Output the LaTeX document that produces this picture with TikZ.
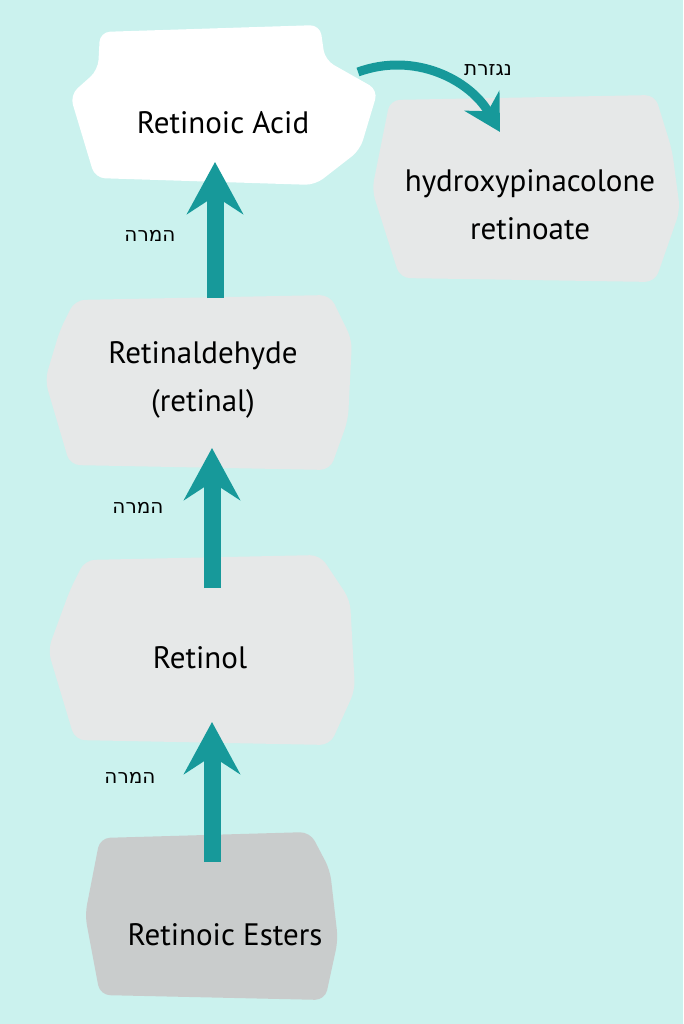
\documentclass[tikz,border=0pt]{standalone}
\usepackage{fontspec}
\setmainfont{PT Sans}
\newfontfamily\hebfont{DejaVu Sans}
\usetikzlibrary{arrows.meta,positioning}
\definecolor{bgmint}{HTML}{CBF2EE}
\definecolor{paintgray}{HTML}{E6E8E8}
\definecolor{paintdark}{HTML}{C9CCCC}
\definecolor{tealarrow}{HTML}{17999A}
\TeXXeTstate=1
\tikzset{
  brush/.style={inner sep=0pt, align=center,
    font=\fontsize{31}{48}\selectfont},
  convert/.style={draw=tealarrow, line width=17pt,
    -{Stealth[length=52pt,width=56pt,inset=18pt]}},
  heb/.style={font=\hebfont\fontsize{20}{22}\selectfont, text=black}
}
\begin{document}
\begin{tikzpicture}[x=1pt,y=-1pt]
  \useasboundingbox[fill=bgmint] (0,0) rectangle (683,1024);
  % painted patches
  \fill[white,rounded corners=10pt] (100,32) -- (320,25) -- (325,60) -- (378,90) -- (360,150) -- (315,185) -- (95,178) -- (70,95) -- (98,70) -- cycle;
  \fill[paintgray,rounded corners=10pt] (390,100) -- (655,95) -- (672,150) -- (680,210) -- (655,282) -- (400,278) -- (372,190) -- cycle;
  \fill[paintgray,rounded corners=10pt] (75,300) -- (330,295) -- (352,340) -- (348,420) -- (330,470) -- (70,465) -- (45,380) -- (60,330) -- cycle;
  \fill[paintgray,rounded corners=10pt] (85,560) -- (320,555) -- (350,600) -- (355,690) -- (330,745) -- (75,740) -- (48,650) -- (70,590) -- cycle;
  \fill[paintdark,rounded corners=10pt] (100,838) -- (310,832) -- (330,870) -- (338,940) -- (325,1000) -- (100,995) -- (85,915) -- cycle;
  % labels
  \node[brush] (acid) at (223,123) {Retinoic Acid};
  \node[brush] (hpr) at (530,205) {hydroxypinacolone\\retinoate};
  \node[brush] (retinal) at (203,380) {Retinaldehyde\\(retinal)};
  \node[brush] (retinol) at (200,658) {Retinol};
  \node[brush] (esters) at (225,935) {Retinoic Esters};
  % arrows
  \coordinate (a1s) at (215,298);
  \coordinate (a1e) at (215,162);
  \coordinate (a2s) at (212,588);
  \coordinate (a2e) at (212,448);
  \coordinate (a3s) at (212,862);
  \coordinate (a3e) at (212,722);
  \coordinate (a4s) at (358,72);
  \coordinate (a4e) at (500,132);
  \draw[convert] (a1s) -- (a1e);
  \draw[convert] (a2s) -- (a2e);
  \draw[convert] (a3s) -- (a3e);
  \draw[convert,line width=9pt,-{Stealth[length=36pt,width=40pt,inset=12pt]}] (a4s) to[out=20,in=120] (a4e);
  % hebrew tags
  \node[heb] (t1) at (150,236) {\beginR המרה\endR};
  \node[heb] (t2) at (138,508) {\beginR המרה\endR};
  \node[heb] (t3) at (130,778) {\beginR המרה\endR};
  \node[heb] (t4) at (488,70) {\beginR נגזרת\endR};
\end{tikzpicture}
\end{document}
